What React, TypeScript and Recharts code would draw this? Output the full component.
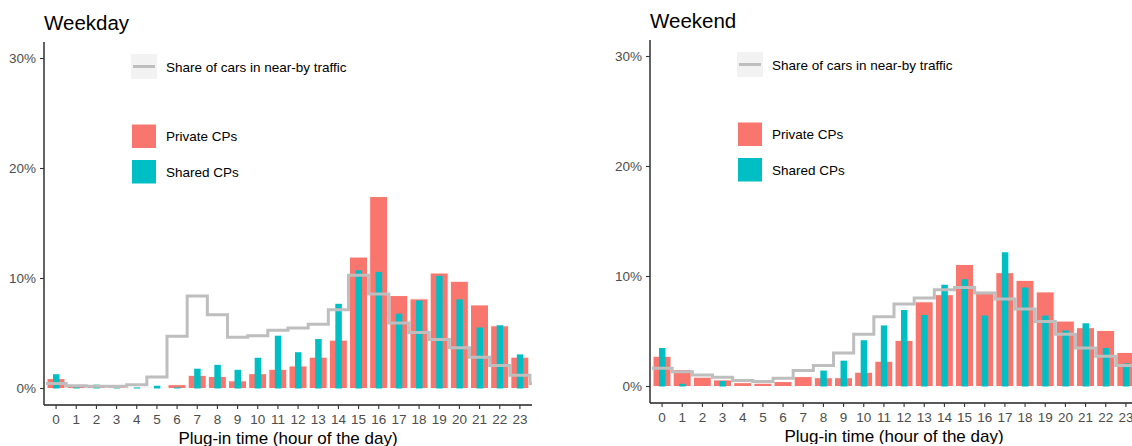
import React from 'react';
import { ComposedChart, Bar, Line, XAxis, YAxis } from 'recharts';

const hours = ['0', '1', '2', '3', '4', '5', '6', '7', '8', '9', '10', '11',
  '12', '13', '14', '15', '16', '17', '18', '19', '20', '21', '22', '23'];

// shares in %
const weekdayPrivate = [0.9, 0.25, 0.2, 0.15, 0.1, 0.1, 0.35, 1.2, 1.1, 0.7, 1.35, 1.75,
  2.05, 2.85, 4.4, 11.95, 17.45, 8.45, 8.15, 10.5, 9.75, 7.6, 5.7, 2.85];
const weekdayShared = [1.3, 0.1, 0.35, 0.05, 0.1, 0.25, 0.1, 1.8, 2.15, 1.7, 2.8, 4.8,
  3.3, 4.5, 7.7, 10.75, 10.6, 6.8, 8.0, 10.25, 8.1, 5.55, 5.75, 3.1];
const weekdayTraffic = [0.45, 0.25, 0.2, 0.2, 0.35, 1.05, 4.75, 8.4, 6.7, 4.65, 4.8, 5.3,
  5.5, 5.85, 7.15, 10.3, 8.6, 5.95, 5.1, 4.45, 3.7, 2.85, 2.1, 1.2];

const weekendPrivate = [2.75, 1.55, 0.85, 0.6, 0.35, 0.3, 0.45, 0.9, 0.8, 0.8, 1.3, 2.3,
  4.2, 7.7, 8.35, 11.1, 8.65, 10.35, 9.65, 8.6, 5.95, 5.35, 5.1, 3.1];
const weekendShared = [3.5, 0.25, 0, 0.5, 0, 0, 0, 0, 1.45, 2.35, 4.2, 5.55,
  6.95, 6.5, 9.25, 9.75, 6.45, 12.2, 9.0, 6.45, 5.1, 5.75, 3.5, 2.1];
const weekendTraffic = [1.65, 1.35, 1.05, 0.85, 0.55, 0.45, 0.75, 1.45, 1.9, 3.05, 4.75, 6.35,
  7.5, 8.05, 8.8, 9.0, 8.5, 7.95, 7.05, 5.9, 4.75, 3.5, 2.75, 1.9];

const yTicks = [0, 10, 20, 30];

const PRIVATE = '#F8766D';
const SHARED = '#00BFC4';
const TRAFFIC = '#BEBEBE';
const FONT = 'Arial, "Liberation Sans", sans-serif';

function buildRows(priv: number[], shared: number[]) {
  return hours.map((h, i) => ({ hour: h, private: priv[i], shared: shared[i] }));
}

// step line drawn from h-0.5 to h+0.5, wrapping to hour 0 at the end
function buildStep(traffic: number[]) {
  const pts = traffic.map((v, i) => ({ x: i - 0.5, v }));
  pts.push({ x: 23.5, v: traffic[0] });
  pts.push({ x: 24.5, v: traffic[0] });
  return pts;
}

function Panel({ title, left, top, priv, shared, traffic }: any) {
  const rows = buildRows(priv, shared);
  const step = buildStep(traffic);
  const axisLine = { stroke: '#222', strokeWidth: 1.4 };
  const tickLine = { stroke: '#333', strokeWidth: 1.1 };
  return (
    <div style={{ position: 'absolute', left, top, width: 560, height: 446 }}>
      <ComposedChart width={560} height={446} data={rows}
        margin={{ top: 42, right: 28, bottom: 0, left: 0 }}>
        <XAxis xAxisId="s" dataKey="hour" type="category" padding={{ left: 2, right: 2 }}
          height={0} hide />
        <XAxis xAxisId="l" dataKey="x" type="number" domain={[-0.6, 23.6]} allowDataOverflow
          height={0} hide />
        <XAxis xAxisId="p" dataKey="hour" type="category" interval={0}
          padding={{ left: 2, right: 2 }} height={41} tickSize={4} tickMargin={5}
          axisLine={axisLine} tickLine={tickLine}
          tick={{ fill: '#4D4D4D', fontSize: 13.5 }}
          label={{ value: 'Plug-in time (hour of the day)', position: 'insideBottom',
            offset: 2, fontSize: 17, fill: '#000' }} />
        <YAxis domain={[-1.5, 31.5]} ticks={yTicks} width={44} tickSize={4} tickMargin={4}
          axisLine={axisLine} tickLine={tickLine} interval={0}
          tick={{ fill: '#4D4D4D', fontSize: 13.5 }}
          tickFormatter={(v: number) => `${v}%`} />
        <Bar xAxisId="p" dataKey="private" barSize={18} fill={PRIVATE} stroke="#fff"
          strokeWidth={1} isAnimationActive={false} />
        <Bar xAxisId="s" dataKey="shared" barSize={6.5} fill={SHARED} isAnimationActive={false} />
        <Line xAxisId="l" data={step} dataKey="v" type="stepAfter" stroke={TRAFFIC}
          strokeWidth={3} dot={false} activeDot={false} isAnimationActive={false} />
      </ComposedChart>
      <svg width={560} height={446} style={{ position: 'absolute', left: 0, top: 0, pointerEvents: 'none' }}>
        <text x={44} y={30} fontSize={20.5} fill="#000">{title}</text>
        <rect x={131} y={54} width={26} height={25} fill="#F2F2F2" />
        <line x1={133} x2={155} y1={66.5} y2={66.5} stroke={TRAFFIC} strokeWidth={3} />
        <text x={166} y={67.5} fontSize={13.5} dominantBaseline="central" fill="#000">
          Share of cars in near-by traffic
        </text>
        <rect x={131.5} y={124} width={25} height={24.5} fill={PRIVATE} stroke="#fff" />
        <text x={166} y={136.5} fontSize={13.5} dominantBaseline="central" fill="#000">Private CPs</text>
        <rect x={131.5} y={159.5} width={25} height={24.5} fill={SHARED} stroke="#fff" />
        <text x={166} y={172} fontSize={13.5} dominantBaseline="central" fill="#000">Shared CPs</text>
      </svg>
    </div>
  );
}

export default function App() {
  return (
    <div style={{ position: 'fixed', left: 0, top: 0, width: 1132, height: 446,
      overflow: 'hidden', background: '#fff', fontFamily: FONT }}>
      <Panel title="Weekday" left={0} top={0}
        priv={weekdayPrivate} shared={weekdayShared} traffic={weekdayTraffic} />
      <Panel title="Weekend" left={605.7} top={-2.5}
        priv={weekendPrivate} shared={weekendShared} traffic={weekendTraffic} />
    </div>
  );
}
